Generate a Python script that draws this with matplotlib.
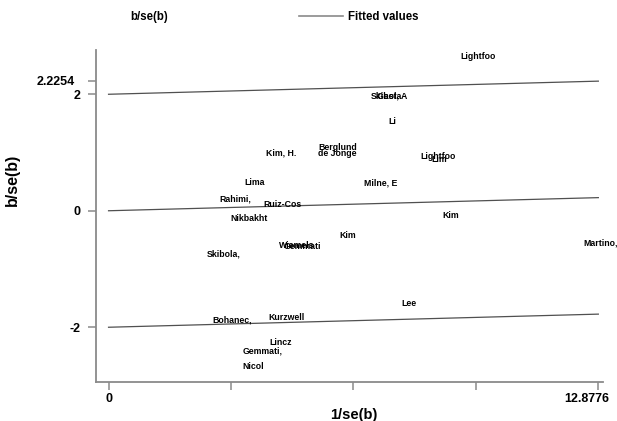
import matplotlib
matplotlib.use('Agg')
import matplotlib.pyplot as plt
import matplotlib.transforms as mtransforms
from matplotlib.lines import Line2D

plt.rcParams['font.family'] = ['Liberation Sans', 'DejaVu Sans']

# study labels, precision (1/se) and standardised effect (b/se)
names = ['Lightfoo', 'Skibola', 'Gast, A', 'Li', 'Lightfoo', 'Lim',
         'Kim, H.', 'Berglund', 'de Jonge', 'Milne, E', 'Lima', 'Rahimi,',
         'Ruiz-Cos', 'Nikbakht', 'Kim', 'Wiemels', 'Gemmati', 'Kim',
         'Martino,', 'Skibola,', 'Lee', 'Bohanec,', 'Kurzwell', 'Lincz',
         'Gemmati,', 'Nicol']
prec = [9.25, 6.89, 7.07, 7.36, 8.20, 8.48,
        4.13, 5.52, 5.50, 6.71, 3.56, 2.92,
        4.08, 3.20, 6.08, 4.47, 4.60, 8.77,
        12.48, 2.59, 7.70, 2.72, 4.21, 4.24,
        3.53, 3.53]
zscore = [2.64, 1.96, 1.97, 1.53, 0.94, 0.88,
          1.00, 1.08, 0.98, 0.48, 0.48, 0.20,
          0.10, -0.13, -0.42, -0.60, -0.61, -0.09,
          -0.56, -0.75, -1.60, -1.87, -1.83, -2.26,
          -2.40, -2.68]

# fitted line through origin and +/- 2 band
fit_x = [0, 12.8776]
fit_y = [0, 0.2254]
band = [-2, 0, 2]

xticks = [0, 3.2194, 6.4388, 9.6582, 12.8776]
xticklabels = ['0', '', '', '', '12.8776']
yticks = [-2, 0, 2, 2.2254]
yticklabels = ['-2', '0', '2', '2.2254']

grey = '#8a8a8a'
fig = plt.figure(figsize=(6.17, 4.21), dpi=100)
ax = fig.add_axes([96 / 617, 1 - 382 / 421, 507 / 617, 332 / 421])

for off in band:
    ax.plot(fit_x, [v + off for v in fit_y], color='#505050', lw=0.9)

for n, x, y in zip(names, prec, zscore):
    ax.text(x, y, n, ha='left', va='center', fontsize=6.3, fontweight='bold')

ax.set_xlim(-0.33, 13.0)
ax.set_ylim(-2.94, 2.76)
for s in ['top', 'right']:
    ax.spines[s].set_visible(False)
for s in ['left', 'bottom']:
    ax.spines[s].set_color(grey)
    ax.spines[s].set_linewidth(1.3)

ax.set_xticks(xticks)
ax.set_xticklabels(xticklabels)
ax.set_yticks(yticks)
ax.set_yticklabels(yticklabels)
ax.tick_params(length=6, width=1.1, color=grey, labelsize=9, pad=2)
ax.tick_params(axis='y', pad=5)
for lab in ax.get_xticklabels() + ax.get_yticklabels():
    lab.set_fontweight('bold')
ax.get_yticklabels()[3].set_transform(
    ax.get_yticklabels()[3].get_transform()
    + mtransforms.ScaledTranslation(-6 / 100, 0.01, fig.dpi_scale_trans))
ax.get_xticklabels()[4].set_transform(
    ax.get_xticklabels()[4].get_transform()
    + mtransforms.ScaledTranslation(-12 / 100, 0, fig.dpi_scale_trans))

ax.set_xlabel('1/se(b)', fontsize=10.5, fontweight='bold')
ax.set_ylabel('b/se(b)', fontsize=11.5, fontweight='bold')
ax.xaxis.set_label_coords(0.509, -0.078)
ax.yaxis.set_label_coords(-0.151, 0.61)

handles = [Line2D([], [], linestyle='none', label='b/se(b)'),
           Line2D([], [], color=grey, lw=1.2, label='Fitted values')]
fig.legend(handles=handles, ncol=2, frameon=False, loc='center left',
           bbox_to_anchor=(76 / 617, 1 - 17 / 421), borderpad=0,
           handlelength=3.8, handletextpad=0.45, columnspacing=11.3,
           prop={'size': 8.3, 'weight': 'bold'})

fig.savefig('out.png', dpi=100)
